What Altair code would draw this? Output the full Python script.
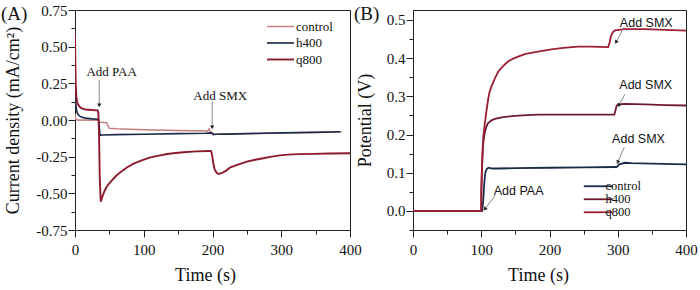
import altair as alt
import pandas as pd

SERIES = ["control", "h400", "q800"]
COLORS_A = ["#c47b7b", "#1c2b48", "#8b1a2e"]
COLORS_B = ["#1c2b48", "#6e1a2c", "#9c1f35"]

X_TICKS = [0, 50, 100, 150, 200, 250, 300, 350, 400]
YA_TICKS = [-0.75, -0.625, -0.5, -0.375, -0.25, -0.125, 0.0, 0.125, 0.25, 0.375, 0.5, 0.625, 0.75]
YB_TICKS = [-0.05, 0.0, 0.05, 0.1, 0.15, 0.2, 0.25, 0.3, 0.35, 0.4, 0.45, 0.5]

# ---------------- Panel A: current density (mA/cm2) vs time (s)
a_control_t = [0, 1, 3, 34, 35.5, 46, 48, 50, 60, 100, 150, 193, 195, 196.5, 199, 202, 220, 250, 300, 350, 388]
a_control_v = [0.04, 0.005, 0.0, -0.002, -0.015, -0.018, -0.04, -0.056, -0.06, -0.066, -0.072, -0.075, -0.06,
               -0.075, -0.085, -0.095, -0.096, -0.093, -0.088, -0.084, -0.081]
a_h400_t = [0, 0.5, 1, 2, 4, 6, 9, 15, 25, 33, 34.5, 35.5, 36.5, 40, 60, 100, 150, 190, 197, 199, 201, 205, 220,
            250, 300, 350, 386]
a_h400_v = [0.32, 0.2, 0.12, 0.07, 0.04, 0.03, 0.02, 0.013, 0.008, 0.005, 0.0, -0.06, -0.105, -0.102, -0.1, -0.097,
            -0.093, -0.09, -0.088, -0.09, -0.1, -0.097, -0.096, -0.093, -0.088, -0.084, -0.08]
a_q800_t = [0, 0.5, 1, 2, 3, 4, 6, 9, 15, 25, 33, 34, 35, 36, 37.5, 40, 42.5, 46, 52, 60, 67, 76, 86, 98, 110, 122,
            134, 146, 158, 176, 195, 198, 199.5, 201, 203, 206, 209, 214, 220, 226, 238, 250, 262, 274, 286, 298,
            310, 325, 347, 370, 400]
a_q800_v = [0.59, 0.40, 0.25, 0.16, 0.125, 0.11, 0.095, 0.08, 0.072, 0.068, 0.066, 0.05, -0.1, -0.4, -0.557, -0.52,
            -0.489, -0.455, -0.42, -0.38, -0.352, -0.322, -0.296, -0.273, -0.255, -0.243, -0.232, -0.225, -0.22,
            -0.214, -0.211, -0.212, -0.24, -0.29, -0.335, -0.36, -0.368, -0.36, -0.345, -0.323, -0.303, -0.284,
            -0.271, -0.261, -0.25, -0.241, -0.236, -0.233, -0.231, -0.228, -0.227]

a_note_text = ["Add PAA", "Add SMX"]
a_note_t = [53.3, 211.2]
a_note_v = [0.329, 0.164]
a_arrow_t = [35.3, 199.5]
a_arrow_v0 = [0.273, 0.125]
a_arrow_v1 = [0.104, -0.046]

# ---------------- Panel B: potential (V) vs time (s)
b_control_t = [0, 101.5, 103, 104.5, 106, 108, 111, 116, 125, 150, 200, 250, 298, 300, 302, 306, 310, 320, 350, 400]
b_control_v = [0.0, 0.0, 0.03, 0.075, 0.1, 0.11, 0.113, 0.111, 0.111, 0.112, 0.113, 0.114, 0.115, 0.117, 0.122,
               0.124, 0.126, 0.125, 0.124, 0.122]
b_h400_t = [0, 100, 100.2, 101, 102.5, 105, 107.5, 110, 115, 120, 130, 145, 160, 183, 250, 295, 296.5, 298, 300,
            310, 340, 370, 400]
b_h400_v = [0.0, 0.0, 0.055, 0.11, 0.17, 0.204, 0.22, 0.23, 0.237, 0.241, 0.245, 0.248, 0.25, 0.252, 0.252, 0.252,
            0.262, 0.274, 0.279, 0.28, 0.279, 0.277, 0.276]
b_q800_t = [0, 100, 100.1, 101, 102, 103, 105, 107.5, 110, 112, 115, 120, 125, 132, 139, 146, 154, 165, 183, 203,
            220, 242, 260, 286, 288, 290, 293, 296, 310, 340, 370, 400]
b_q800_v = [0.0, 0.0, 0.052, 0.11, 0.16, 0.195, 0.225, 0.26, 0.291, 0.31, 0.326, 0.347, 0.365, 0.379, 0.391, 0.398,
            0.404, 0.411, 0.417, 0.423, 0.427, 0.43, 0.43, 0.429, 0.44, 0.458, 0.468, 0.473, 0.476, 0.476, 0.474,
            0.472]

b_note_text = ["Add PAA", "Add SMX", "Add SMX", "Add SMX"]
b_note_t = [154.8, 341.8, 341.0, 330.4]
b_note_v = [0.052, 0.493, 0.33, 0.187]
b_arrow_t0 = [120.6, 309.1, 310.6, 309.6]
b_arrow_v0 = [0.041, 0.481, 0.306, 0.167]
b_arrow_t1 = [105.9, 297.9, 302.3, 300.3]
b_arrow_v1 = [0.006, 0.443, 0.278, 0.129]
b_arrow_angle = [217, 211, 208, 203]

SERIF = "Liberation Serif"
SANS = "Liberation Sans"
INK = "#222222"


def series_frame(ts, vs):
    rows = []
    for name, t, v in zip(SERIES, ts, vs):
        for i, (ti, vi) in enumerate(zip(t, v)):
            rows.append({"series": name, "t": ti, "v": vi, "i": i})
    return pd.DataFrame(rows)


def x_axis(title_x):
    return alt.Axis(
        values=X_TICKS, title="Time (s)",
        labelExpr="datum.value % 100 === 0 ? datum.label : ''",
        tickSize={"condition": {"test": "datum.value % 100 === 0", "value": 7}, "value": 4},
        labelFlush=False, labelOverlap=False, labelPadding=5,
        titleX=title_x, titleY=36, titleBaseline="top", titleAnchor="middle",
    )


def build_panel(df, colors, widths, ydomain, yticks, yfmt, ytest, ytitle, ytitle_x, xtitle_x, legend, width,
                notes, arrows, heads, note_font, note_size, tag, tag_x):
    xs = alt.Scale(domain=[0, 400], nice=False)
    ys = alt.Scale(domain=ydomain, nice=False, zero=False)
    xa = x_axis(xtitle_x)
    ya = alt.Axis(
        values=yticks, format=yfmt, title=ytitle,
        labelExpr="(%s) ? replace(datum.label, '\u2212', '-') : ''" % ytest,
        tickSize={"condition": {"test": ytest, "value": 7}, "value": 4},
        labelOverlap=False, labelFlush=False, labelPadding=1,
        titleX=ytitle_x, titleAnchor="middle",
    )
    lines = alt.Chart(df).mark_line(clip=True).encode(
        x=alt.X("t:Q", scale=xs, axis=xa), y=alt.Y("v:Q", scale=ys, axis=ya),
        color=alt.Color("series:N", scale=alt.Scale(domain=SERIES, range=colors), legend=legend),
        strokeWidth=alt.StrokeWidth("series:N", scale=alt.Scale(domain=SERIES, range=widths), legend=None),
        order="i:Q",
    )
    rules = alt.Chart(arrows).mark_rule(color="#8a8a8a", strokeWidth=1).encode(
        x=alt.X("t0:Q", scale=xs, axis=xa), y=alt.Y("v0:Q", scale=ys, axis=ya),
        x2="t1:Q", y2="v1:Q")
    points = alt.Chart(heads).mark_point(shape="triangle", filled=True, color=INK, size=18, opacity=1).encode(
        x=alt.X("t:Q", scale=xs, axis=xa), y=alt.Y("v:Q", scale=ys, axis=ya),
        angle=alt.Angle("angle:Q", scale=None))
    texts = alt.Chart(notes).mark_text(font=note_font, fontSize=note_size, color="#111111").encode(
        x=alt.X("t:Q", scale=xs, axis=xa), y=alt.Y("v:Q", scale=ys, axis=ya), text="label:N")
    tag_chart = alt.Chart(pd.DataFrame({"label": [tag]})).mark_text(
        font=SERIF, fontSize=19, align="left", baseline="top", color="#111111"
    ).encode(x=alt.value(tag_x), y=alt.value(-5), text="label:N")
    return alt.layer(lines, rules, points, texts, tag_chart).properties(width=width, height=220)


df_a = series_frame([a_control_t, a_h400_t, a_q800_t], [a_control_v, a_h400_v, a_q800_v])
df_b = series_frame([b_control_t, b_h400_t, b_q800_t], [b_control_v, b_h400_v, b_q800_v])

notes_a = pd.DataFrame({"label": a_note_text, "t": a_note_t, "v": a_note_v})
arrows_a = pd.DataFrame({"t0": a_arrow_t, "v0": a_arrow_v0, "t1": a_arrow_t, "v1": a_arrow_v1})
heads_a = pd.DataFrame({"t": a_arrow_t, "v": a_arrow_v1, "angle": [180, 180]})

notes_b = pd.DataFrame({"label": b_note_text, "t": b_note_t, "v": b_note_v})
arrows_b = pd.DataFrame({"t0": b_arrow_t0, "v0": b_arrow_v0, "t1": b_arrow_t1, "v1": b_arrow_v1})
heads_b = pd.DataFrame({"t": b_arrow_t1, "v": b_arrow_v1, "angle": b_arrow_angle})

legend_a = alt.Legend(title=None, orient="none", legendX=199, legendY=10, padding=0,
                      symbolType="M-3,0H3", symbolSize=81, symbolStrokeWidth=2, labelOffset=9,
                      labelFont=SERIF, labelFontSize=13, labelColor="#111111", rowPadding=2.5)
legend_b = alt.Legend(title=None, orient="none", legendX=179, legendY=170, padding=0,
                      symbolType="M-3,0H3", symbolSize=93, symbolStrokeWidth=2, labelOffset=1,
                      labelFont=SERIF, labelFontSize=12.5, labelColor="#111111", rowPadding=0)

TEST_A = "abs(datum.value*4 - round(datum.value*4)) < 0.000001"
TEST_B = "abs(datum.value*10 - round(datum.value*10)) < 0.000001"

panel_a = build_panel(df_a, COLORS_A, [1.4, 1.9, 1.9], [-0.75, 0.75], YA_TICKS, ".2f", TEST_A,
                      "Current density (mA/cm\u00b2)", -53, 130, legend_a, 275, notes_a, arrows_a, heads_a,
                      SERIF, 13, "(A)", -74)
panel_b = build_panel(df_b, COLORS_B, [1.8, 1.8, 1.8], [-0.05, 0.526], YB_TICKS, ".1f", TEST_B,
                      "Potential (V)", -39, 125, legend_b, 273, notes_b, arrows_b, heads_b,
                      SANS, 12.5, "(B)", -59)

chart = alt.hconcat(panel_a, panel_b, spacing=63, bounds="flush").resolve_scale(
    color="independent", strokeWidth="independent"
).properties(
    padding={"left": 0, "top": 2, "right": 0, "bottom": 0},
    background="white",
).configure_view(
    stroke=INK, strokeWidth=1
).configure_axis(
    domainColor=INK, tickColor=INK, labelColor="#111111", titleColor="#111111",
    labelFont=SERIF, titleFont=SERIF, labelFontSize=15, titleFontSize=18, titleFontWeight="normal",
    grid=False, domainWidth=1, tickWidth=1, labelOverlap=False
)

chart.save("out.html", embed_options={"renderer": "svg", "actions": False})
